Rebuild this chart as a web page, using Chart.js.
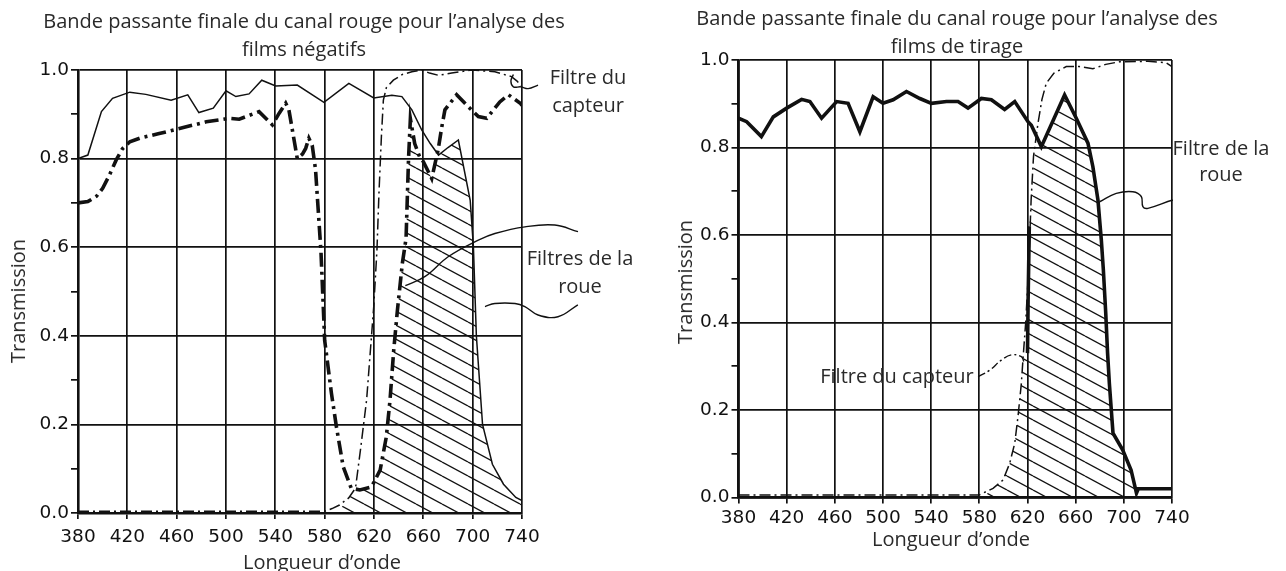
<!DOCTYPE html>
<html>
<head>
<meta charset="utf-8">
<script src="https://cdn.jsdelivr.net/npm/chart.js@4.4.1/dist/chart.umd.min.js"></script>
<style>
  body { margin: 0; background: #fff; width: 1286px; height: 571px; position: relative; overflow: hidden; }
  canvas { position: absolute; top: 0; }
  .lbl { position: absolute; transform: translate(-50%, -50%); white-space: pre; text-align: center;
         font-family: "Open Sans", Lato, sans-serif; font-size: 20px; color: #2a2a2a; line-height: 28px; }
</style>
</head>
<body>
<canvas id="leftChart" width="643" height="571" style="left:0;width:643px;height:571px"></canvas>
<canvas id="rightChart" width="643" height="571" style="left:643px;width:643px;height:571px"></canvas>
<script>
// x ticks (nm) and y ticks (transmission)
const wavelengthTicks = [380, 420, 460, 500, 540, 580, 620, 660, 700, 740];
const transmissionTicks = [0.0, 0.2, 0.4, 0.6, 0.8, 1.0];

// Left panel: films négatifs  -- [nm, transmission]
const negWheelThin = [[380,0.80],[388,0.808],[399,0.906],[408,0.936],[422,0.95],[435,0.945],[455.5,0.932],[469,0.944],[478,0.904],[489.7,0.914],[500,0.953],[508,0.94],[518.7,0.946],[529,0.977],[540.3,0.964],[557.8,0.966],[579.4,0.927],[599.6,0.97],[619.8,0.937],[634.5,0.943],[642.6,0.94],[650.7,0.91],[658.8,0.864],[665.6,0.834],[672.3,0.808],[680,0.825],[688.4,0.842],[698,0.706],[700.6,0.601],[703,0.4],[708,0.2],[716,0.11],[725,0.065],[735,0.035],[740,0.028]];
const negWheelBold = [[380,0.70],[388,0.703],[395,0.715],[400,0.733],[405,0.76],[411,0.797],[416,0.822],[422,0.838],[430,0.846],[445,0.856],[459.5,0.866],[484,0.883],[502.6,0.891],[510.7,0.889],[526.8,0.906],[537.6,0.876],[543,0.902],[548.4,0.925],[551,0.91],[557.8,0.80],[562,0.81],[564.6,0.823],[567.2,0.846],[569.9,0.83],[572.6,0.775],[577,0.59],[580,0.39],[585.5,0.27],[589.5,0.195],[595,0.105],[601.5,0.056],[608.5,0.052],[618,0.059],[625,0.097],[630,0.172],[633,0.255],[636,0.368],[639,0.458],[643,0.564],[646,0.62],[648,0.8],[649.5,0.89],[653,0.834],[657,0.804],[660,0.793],[666.8,0.755],[672,0.82],[675,0.872],[677.5,0.91],[687,0.944],[696.5,0.917],[704.6,0.895],[711.4,0.891],[722,0.928],[729,0.944],[738.6,0.925],[740,0.92]];
const negSensor = [[380,0.004],[580,0.004],[586,0.01],[592,0.018],[599.5,0.034],[605,0.056],[609,0.142],[614,0.255],[619.8,0.466],[622.4,0.594],[624,0.72],[626,0.85],[627.6,0.932],[630,0.96],[635.7,0.977],[643,0.99],[650.7,0.996],[658.8,1.0],[665,0.993],[672.3,0.988],[683,0.993],[699,1.0],[718,0.996],[731.5,0.985],[736,0.975],[740,0.962]];
const negBand = [[590,0],[600,0.035],[605,0.055],[612,0.052],[618,0.058],[625,0.097],[630,0.172],[633,0.255],[636,0.368],[639,0.458],[643,0.564],[646,0.62],[648,0.8],[649.5,0.89],[653,0.834],[657,0.804],[660,0.793],[666.8,0.755],[672.3,0.808],[680,0.825],[688.4,0.842],[698,0.706],[700.6,0.601],[703,0.4],[708,0.2],[716,0.11],[725,0.065],[735,0.035],[740,0.028]];

// Right panel: films de tirage
const printWheel = [[380,0.867],[386.8,0.859],[399,0.825],[408.9,0.870],[420,0.89],[432.4,0.91],[439.3,0.905],[449,0.867],[461.5,0.905],[471,0.901],[480.8,0.836],[491.8,0.916],[500,0.901],[508.4,0.909],[519.5,0.928],[530.6,0.912],[540.2,0.901],[552.7,0.905],[562.3,0.905],[570.6,0.89],[581.7,0.912],[590,0.909],[601,0.887],[609.4,0.905],[620.4,0.859],[623.2,0.851],[631.5,0.802],[650.8,0.92],[660.5,0.867],[670.2,0.81],[674.3,0.756],[678.5,0.68],[681.3,0.589],[683,0.52],[685,0.42],[686.5,0.33],[688,0.26],[691,0.147],[699,0.109],[706,0.063],[710.5,0.01],[712,0.02],[740,0.02]];
const printSensor = [[380,0.006],[580,0.006],[591.4,0.021],[599.7,0.04],[605.2,0.078],[609.4,0.124],[612.1,0.185],[614.9,0.261],[616.2,0.314],[618.5,0.4],[620.5,0.5],[621.8,0.589],[623,0.68],[625,0.78],[628.7,0.855],[632,0.91],[635.6,0.947],[642,0.97],[652.2,0.985],[663,0.985],[674.3,0.98],[685,0.99],[696.5,0.996],[720,0.997],[735,0.994],[740,0.985]];
const printBand = [[583,0],[591.4,0.021],[599.7,0.04],[605.2,0.078],[609.4,0.124],[612.1,0.185],[614.9,0.261],[616.2,0.314],[619.5,0.35],[620.5,0.45],[621.5,0.62],[624,0.72],[626,0.79],[631.5,0.802],[650.8,0.92],[660.5,0.867],[670.2,0.81],[674.3,0.756],[678.5,0.68],[681.3,0.589],[683,0.52],[685,0.42],[686.5,0.33],[688,0.26],[691,0.147],[699,0.109],[706,0.063],[710.5,0.01],[711,0]];
const printBandEdge = [[620,0.33],[620.5,0.45],[621.5,0.62]];

// leader lines for the callouts (same units as the data)
const negLeadSensor = [[733,0.99],[731,0.975],[733,0.962],[739,0.962],[745,0.958],[753,0.966]];
const negLeadWheelA = [[785.4,0.635],[766.6,0.65],[742.4,0.646],[718,0.631],[704.6,0.616],[680.4,0.579],[661.5,0.534],[645.4,0.513]];
const negLeadWheelB = [[785.3,0.47],[769.2,0.443],[753,0.447],[742.3,0.466],[734.3,0.473],[718,0.473],[710,0.466]];
const printLeadWheel = [[679.9,0.676],[693.7,0.695],[707.5,0.699],[714.5,0.688],[715.8,0.665],[720,0.661],[740.7,0.68],[773.9,0.703]];
const printLeadSensor = [[579,0.276],[588.6,0.291],[598.3,0.314],[606.6,0.326],[614.9,0.322],[617,0.31]];

const INK = '#111';

function pts(pairs) {
    return pairs.map(p => ({ x: p[0], y: p[1] }));
}

// diagonal "\" hatching used for the pass band
function makeHatch(ctx) {
    const c = document.createElement('canvas');
    c.width = 26;
    c.height = 14;
    const g = c.getContext('2d');
    g.strokeStyle = INK;
    g.lineWidth = 1.3;
    for (let k = -1; k <= 1; k++) {
        g.beginPath();
        g.moveTo(0, k * 14);
        g.lineTo(26, 14 + k * 14);
        g.stroke();
    }
    return ctx.createPattern(c, 'repeat');
}

function line(data, width, dash, extra) {
    return Object.assign({
        data: pts(data),
        borderColor: INK,
        borderWidth: width,
        borderDash: dash || [],
        pointRadius: 0,
        tension: 0,
        fill: false,
        order: 1
    }, extra || {});
}

function leader(data, dash) {
    return line(data, 1.4, dash, { tension: 0.4, clip: false });
}

function makeChart(id, datasets, box) {
    const ctx = document.getElementById(id).getContext('2d');
    datasets.forEach(ds => {
        if (ds.hatch) ds.backgroundColor = makeHatch(ctx);
    });
    const tickFont = { family: 'DejaVu Sans', size: 18.5 };
    return new Chart(ctx, {
        type: 'line',
        data: { datasets: datasets },
        options: {
            responsive: false,
            animation: false,
            layout: { padding: { left: 0, top: box.top, right: box.right, bottom: 0 }, autoPadding: false },
            plugins: { legend: { display: false }, tooltip: { enabled: false } },
            scales: {
                x: {
                    type: 'linear', min: 380, max: 740,
                    afterBuildTicks: s => { s.ticks = wavelengthTicks.map(v => ({ value: v })); },
                    afterFit: s => { s.height = box.xAxis; },
                    grid: { color: INK, lineWidth: 1.7, tickLength: 6, tickColor: INK },
                    border: { color: INK, width: 2.6 },
                    ticks: { color: INK, padding: box.xPad, maxRotation: 0, font: tickFont }
                },
                y: {
                    min: 0, max: 1,
                    ticks: {
                        stepSize: 0.1, color: INK, padding: 2, font: tickFont,
                        callback: v => transmissionTicks.some(t => Math.abs(t - v) < 1e-6) ? v.toFixed(1) : ''
                    },
                    afterFit: s => { s.width = box.yAxis; },
                    grid: {
                        color: c => Math.round(c.tick.value * 10) % 2 === 0 ? INK : 'rgba(0,0,0,0)',
                        lineWidth: 1.7, tickLength: 7, tickColor: INK
                    },
                    border: { color: INK, width: 2.6 }
                }
            }
        }
    });
}

// Left chart
makeChart('leftChart', [
    { data: pts(negBand), hatch: true, fill: 'origin', borderWidth: 0, pointRadius: 0, order: 10 },
    line(negWheelThin, 1.5),
    line(negWheelBold, 3.6, [14, 5, 3, 5]),
    line(negSensor, 1.5, [11, 4, 2, 4]),
    leader(negLeadSensor),
    leader(negLeadWheelA),
    leader(negLeadWheelB)
], { top: 70, right: 121, xAxis: 58, yAxis: 78, xPad: 7 });

// Right chart
makeChart('rightChart', [
    { data: pts(printBand), hatch: true, fill: 'origin', borderWidth: 0, pointRadius: 0, order: 10 },
    line(printWheel, 3.6),
    line(printBandEdge, 3.6),
    line(printSensor, 1.5, [11, 4, 2, 4]),
    leader(printLeadWheel),
    leader(printLeadSensor, [8, 3, 2, 3])
], { top: 60, right: 114, xAxis: 73.5, yAxis: 95.5, xPad: 4 });

// texts
function addText(txt, cx, cy, extra) {
    const d = document.createElement('div');
    d.className = 'lbl';
    d.textContent = txt;
    d.style.left = cx + 'px';
    d.style.top = cy + 'px';
    if (extra) Object.assign(d.style, extra);
    document.body.appendChild(d);
}

addText('Bande passante finale du canal rouge pour l\u2019analyse des\nfilms n\u00e9gatifs', 304, 35);
addText('Bande passante finale du canal rouge pour l\u2019analyse des\nfilms de tirage', 957, 32);
addText('Transmission', 18, 301, { transform: 'translate(-50%, -50%) rotate(-90deg)' });
addText('Transmission', 685, 282, { transform: 'translate(-50%, -50%) rotate(-90deg)' });
addText('Longueur d\u2019onde', 322, 562);
addText('Longueur d\u2019onde', 951, 539);
addText('Filtre du\ncapteur', 588, 91);
addText('Filtres de la\nroue', 580, 272);
addText('Filtre de la\nroue', 1221, 161, { lineHeight: '26px' });
addText('Filtre du capteur', 897, 376);
</script>
</body>
</html>
